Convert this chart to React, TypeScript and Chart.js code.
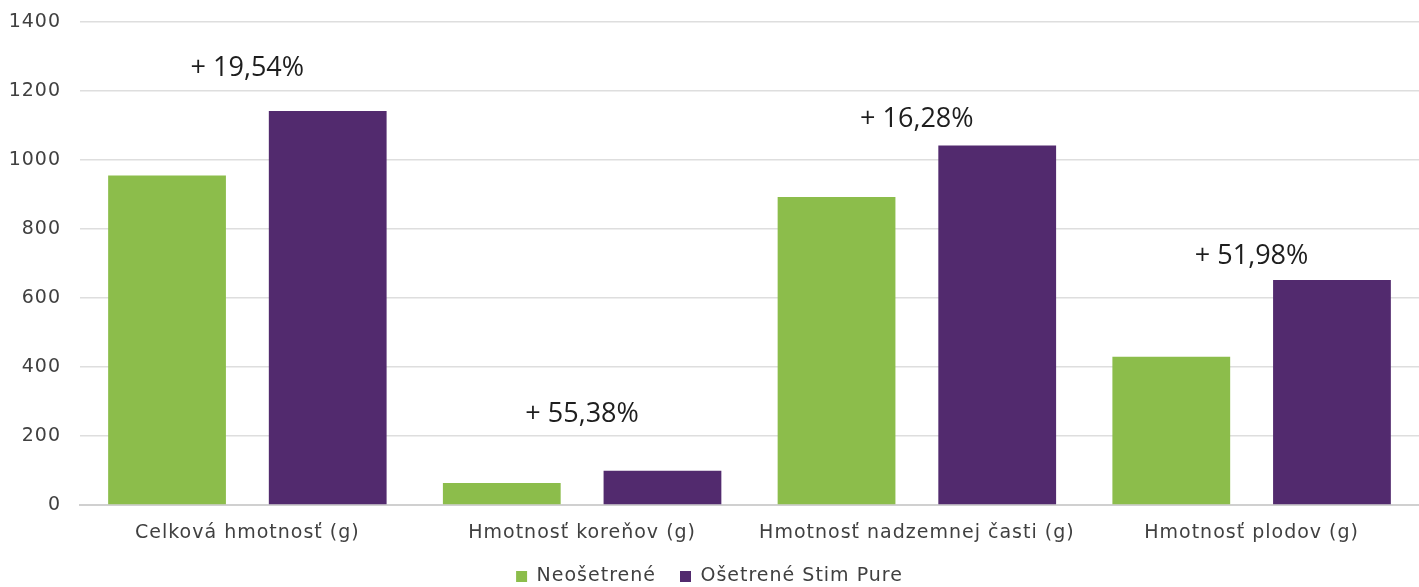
import React, { useEffect, useRef } from "react";
import { Chart, registerables } from "chart.js";

Chart.register(...registerables);

const categories = [
  "Celková hmotnosť (g)",
  "Hmotnosť koreňov (g)",
  "Hmotnosť nadzemnej časti (g)",
  "Hmotnosť plodov (g)",
];
const untreated = [955, 64, 893, 430];
const treated = [1142, 99, 1042, 652];
const increaseLabels = ["+ 19,54%", "+ 55,38%", "+ 16,28%", "+ 51,98%"];
const increaseLabelValues = [1265, 264, 1118, 722];
const yTicks = [0, 200, 400, 600, 800, 1000, 1200, 1400];

const GREEN = "#8CBD4B";
const PURPLE = "#522A6E";
const FONT = "'DejaVu Sans', sans-serif";
const ANNOT_FONT = "'Open Sans', sans-serif";

const spacingPlugin = {
  id: "letterSpacing",
  beforeLayout(chart: any) {
    chart.ctx.letterSpacing = "1px";
  },
  beforeDraw(chart: any) {
    chart.ctx.letterSpacing = "1px";
  },
};

const annotationPlugin = {
  id: "increaseLabels",
  afterDatasetsDraw(chart: any) {
    const { ctx, scales } = chart;
    ctx.save();
    ctx.letterSpacing = "0px";
    ctx.font = `27px ${ANNOT_FONT}`;
    ctx.fillStyle = "#1e1e1e";
    ctx.textAlign = "center";
    ctx.textBaseline = "middle";
    increaseLabels.forEach((t, i) => {
      const x = scales.x.getPixelForValue(i);
      const y = scales.y.getPixelForValue(increaseLabelValues[i]);
      ctx.fillText(t, x, y);
    });
    ctx.restore();
  },
};

export default function App() {
  const ref = useRef<HTMLCanvasElement>(null);
  useEffect(() => {
    document.body.style.margin = "0";
    const chart = new Chart(ref.current!, {
      type: "bar",
      data: {
        labels: categories,
        datasets: [
          {
            label: "Neošetrené",
            data: untreated,
            backgroundColor: GREEN,
            categoryPercentage: 0.96,
            barPercentage: 0.733,
          },
          {
            label: "Ošetrené Stim Pure",
            data: treated,
            backgroundColor: PURPLE,
            categoryPercentage: 0.96,
            barPercentage: 0.733,
          },
        ],
      },
      options: {
        animation: false,
        responsive: true,
        maintainAspectRatio: false,
        layout: { padding: { top: 22, left: 0, right: 0, bottom: -9 } },
        plugins: {
          tooltip: { enabled: false },
          legend: {
            position: "bottom",
            labels: {
              boxWidth: 11,
              boxHeight: 11,
              padding: 24,
              color: "#404040",
              font: { family: FONT, size: 19 },
            },
          },
        },
        scales: {
          x: {
            grid: { display: false, drawTicks: false },
            border: { color: "#d0d0d0", width: 2 },
            afterFit(axis: any) {
              axis.height = 38;
            },
            ticks: {
              color: "#404040",
              padding: 17,
              font: { family: FONT, size: 19 },
            },
          },
          y: {
            min: 0,
            max: 1400,
            afterBuildTicks(axis: any) {
              axis.ticks = yTicks.map((v) => ({ value: v }));
            },
            afterFit(axis: any) {
              axis.width = 80;
              axis.paddingTop = 0;
              axis.paddingBottom = 0;
            },
            grid: { color: "#dedede", lineWidth: 1.5, drawTicks: false },
            border: { display: false },
            ticks: {
              color: "#404040",
              padding: 19,
              font: { family: FONT, size: 19 },
              callback: (v: any) => String(v),
            },
          },
        },
      },
      plugins: [spacingPlugin, annotationPlugin],
    });
    return () => chart.destroy();
  }, []);
  return (
    <div style={{ width: 1419, height: 587, position: "relative" }}>
      <canvas ref={ref} />
    </div>
  );
}
